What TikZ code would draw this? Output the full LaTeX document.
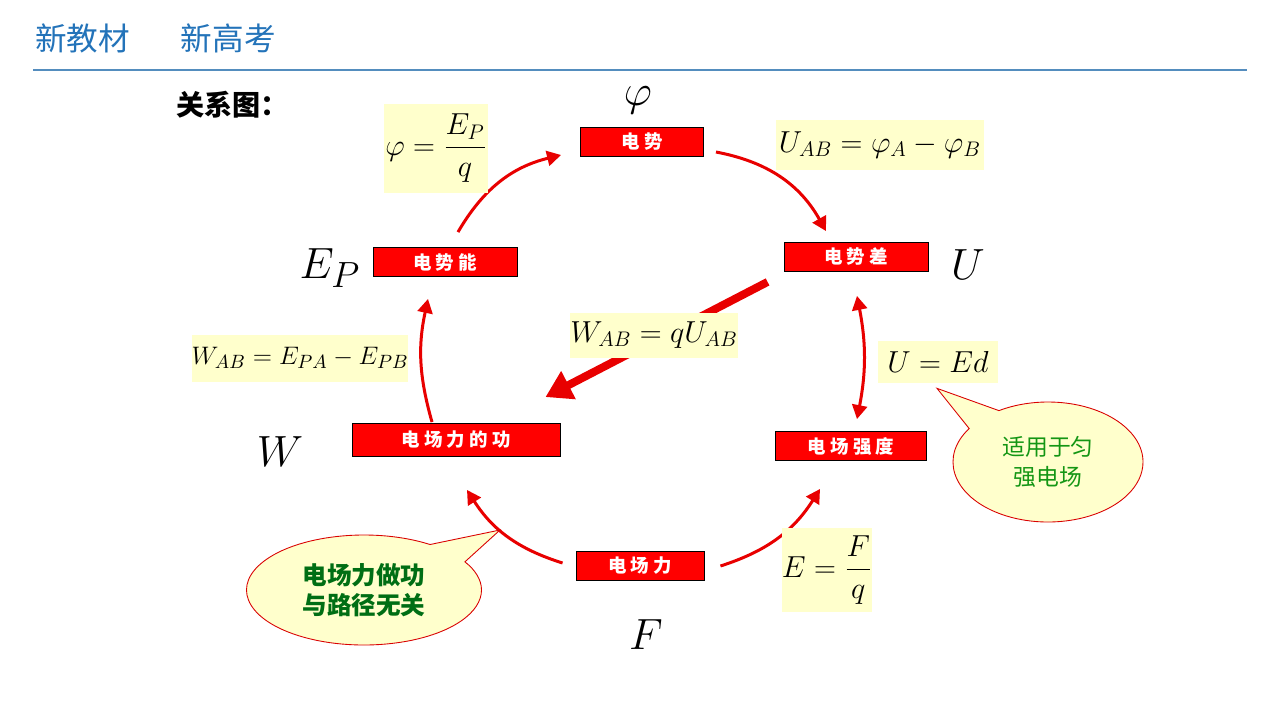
\documentclass[tikz,border=0pt]{standalone}
\usepackage{fontspec}
\setmainfont{Liberation Serif}
\newfontfamily\cjk{Noto Sans CJK SC}
\usepackage{tikz}
\usetikzlibrary{positioning,arrows.meta,shapes.callouts,calc}
\definecolor{hdblue}{RGB}{35,115,185}
\definecolor{hdrule}{RGB}{84,141,190}
\definecolor{boxred}{RGB}{255,0,0}
\definecolor{arrred}{RGB}{232,0,0}
\definecolor{paleY}{RGB}{255,255,204}
\definecolor{tipgreen}{RGB}{20,150,20}
\definecolor{tipdark}{RGB}{0,110,20}
\newdimen\pxu \pxu=0.02cm

\begin{document}
\begin{tikzpicture}[
  x=0.02cm, y=0.02cm,
  hdtext/.style={text=hdblue, inner sep=0pt, font=\cjk\fontsize{18}{21}\selectfont},
  qty/.style={draw=black, line width=0.5pt, fill=boxred, text=white, inner sep=0pt,
              minimum height=29\pxu, font=\cjk\bfseries\fontsize{10.5}{12}\selectfont},
  sym/.style={inner sep=0pt, font=\fontsize{30}{36}\selectfont},
  formula/.style={fill=paleY, inner sep=0pt, font=\fontsize{18}{22}\selectfont},
  arr/.style={->, >={Triangle[length=0.28cm,width=0.3cm]}, arrred, line width=3\pxu},
  dblarr/.style={arr, <->},
  bigarr/.style={-{Triangle[length=0.52cm,width=0.6cm]}, arrred, line width=8\pxu},
  bubble/.style={ellipse callout, draw=red!85!black, line width=0.5pt, fill=paleY,
                 callout pointer arc=25, align=center, inner sep=0pt},
]
\useasboundingbox (0,0) rectangle (1280,-720);

% Header
\node[hdtext, anchor=west] (hdA) at (35,-38) {新教材};
\node[hdtext, right=50\pxu of hdA] (hdB) {新高考};
\draw[hdrule, line width=2\pxu] (33,-70) -- (1247,-70);
\node[anchor=west, inner sep=0pt, font=\cjk\bfseries\fontsize{16}{19}\selectfont] (ttl) at (176,-105) {关系图：};

% Quantities
\node[qty, minimum width=123\pxu] (pot)   at (642,-142) {电 势};
\node[qty, minimum width=144\pxu] (pdiff) at (856,-257) {电 势 差};
\node[qty, minimum width=144\pxu] (epot)  at (445,-262) {电 势 能};
\node[qty, minimum width=208\pxu, minimum height=33\pxu] (work) at (456,-440) {电 场 力 的 功};
\node[qty, minimum width=151\pxu] (field) at (851,-446) {电 场 强 度};
\node[qty, minimum width=128\pxu] (force) at (640,-566) {电 场 力};

% Symbols
\node[sym] (phiL) at (638,-100) {$\varphi$};
\node[sym] (epL)  at (330,-268) {$E_P$};
\node[sym] (uL)   at (968,-265) {$U$};
\node[sym] (wL)   at (280,-452) {$W$};
\node[sym] (fL)   at (646,-635) {$F$};

% Connections
\draw[arr] ($(epot.north)+(13,15)$) to[bend left=23] ($(pot.west)+(-19,-13)$);
\draw[arr] ($(pot.east)+(12,-10)$) to[bend left=25] ($(pdiff.north)+(-30,11)$);
\draw[bigarr] ($(pdiff.south west)+(-16,-10)$) -- ($(work.north east)+(-15,26)$);
\draw[dblarr] ($(pdiff.south)+(1,-24)$) to[bend left=11] ($(field.north)+(6,12)$);
\draw[arr] ($(work.north)+(-24,1)$) to[bend left=14] ($(epot.south)+(-17,-22)$);
\draw[arr] ($(force.west)+(-13,3)$) to[bend left=20] ($(work.south)+(11,-33)$);
\draw[arr] ($(force.east)+(16,0)$) to[bend right=20] ($(field.south)+(-31,-28)$);

% Formulas
\node[formula, minimum width=104\pxu, minimum height=89\pxu] (fPhi) at (436,-148) {$\varphi=\displaystyle\frac{E_P}{q}$};
\node[formula, minimum width=208\pxu, minimum height=50\pxu] (fUab) at (880,-145) {$U_{AB}=\varphi_A-\varphi_B$};
\node[formula, minimum width=216\pxu, minimum height=47\pxu, font=\fontsize{15.5}{19}\selectfont] (fWab) at (300,-358) {$W_{AB}=E_{PA}-E_{PB}$};
\node[formula, minimum width=157\pxu, minimum height=45\pxu, font=\fontsize{16.5}{20}\selectfont] (fWq)  at (654,-335) {$W_{AB}=qU_{AB}$};
\node[formula, minimum width=120\pxu, minimum height=42\pxu] (fUEd) at (938,-362) {$U=Ed$};
\node[formula, minimum width=89\pxu, minimum height=84\pxu]  (fEFq) at (827,-570) {$E=\displaystyle\frac{F}{q}$};

% Notes
\coordinate (tipW) at (500,-530);
\node[bubble, minimum width=190\pxu, minimum height=120\pxu, text=tipgreen,
      font=\cjk\fontsize{13}{17}\selectfont,
      callout absolute pointer={($(fUEd.south)+(-1,-5)$)}] (noteE) at (1048,-462) {适用于匀\\强电场};
\node[bubble, minimum width=235\pxu, minimum height=110\pxu, text=tipdark,
      font=\cjk\bfseries\fontsize{14}{17}\selectfont,
      callout absolute pointer=(tipW)] (noteW) at (364,-590) {电场力做功\\与路径无关};
\end{tikzpicture}
\end{document}
